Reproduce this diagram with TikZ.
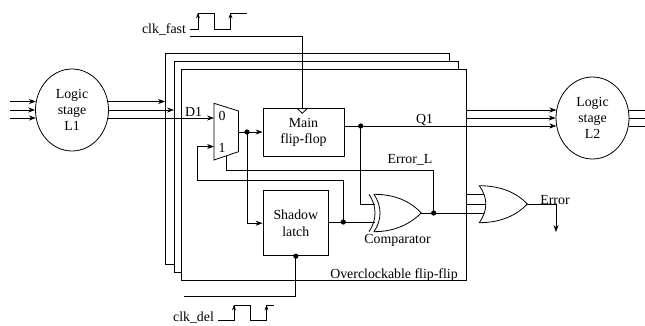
\documentclass[tikz,border=0pt]{standalone}
\usepackage{fontspec}
\setmainfont{Liberation Serif}
\usetikzlibrary{shapes.geometric,arrows.meta}
\def\px{0.75pt}
\tikzset{
  wire/.style={line width=0.6pt,line join=miter},
  arr/.style={wire,-{Stealth[length=5.2pt,width=3.8pt]}},
  smallarr/.style={wire,-{Stealth[length=4pt,width=3pt]}},
  lbl/.style={inner sep=0pt,font=\fontsize{10.4}{12.3}\selectfont,align=center},
  stagenode/.style={ellipse,draw,line width=0.6pt,inner sep=0pt,minimum width=73*\px,minimum height=82*\px,lbl},
  boxnode/.style={rectangle,draw,line width=0.7pt,inner sep=0pt,lbl},
  junction/.style={circle,fill=black,inner sep=0pt,minimum size=5.2*\px},
  gatepath/.style={line width=0.6pt,fill=white,line join=miter}
}
\begin{document}
\begin{tikzpicture}[x=0.75pt,y=-0.75pt]
\useasboundingbox (0,0) rectangle (645,325);
% stacked frames
\draw[wire] (174,264.5) -- (165,264.5) -- (165,53) -- (449,53) -- (449,61);
\draw[wire] (181.5,272) -- (174,272) -- (174,61) -- (458,61) -- (458,69.5);
\draw[wire] (181.5,69.5) rectangle (466.7,280);
% nodes
\node[stagenode] (l1) at (72,110) {Logic\\stage\\L1};
\node[stagenode] (l2) at (592.5,118) {Logic\\stage\\L2};
\node[boxnode,minimum width=81*\px,minimum height=48.5*\px] (main) at (303.5,132.5) {Main\\flip-flop};
\node[boxnode,minimum width=65.7*\px,minimum height=65*\px] (shadow) at (295.85,223.2) {Shadow\\latch};
% mux
\draw[wire,line join=miter] (214,103.3) -- (238.5,111) -- (238.5,151.7) -- (214,160) -- cycle;
\node[lbl] (m0) at (222,116) {0};
\node[lbl] (m1) at (222,148) {1};
\coordinate (muxin0) at (214,118);
\coordinate (muxin1) at (214,146.5);
\coordinate (muxout) at (238.5,132);
\coordinate (muxsel) at (226.3,155.8);
% coordinates
\coordinate (outdot) at (247,132);
\node[junction] (jout) at (outdot) {};
\node[junction] (jq) at (360.7,126) {};
\node[junction] (jsh) at (343.3,222) {};
\node[junction] (jerr) at (433.7,213) {};
\node[junction] (jclk) at (shadow.south) {};
\coordinate (framein1) at (165,101.5);
\coordinate (framein2) at (174,110);
\coordinate (clkin) at (302.3,108.3);
\coordinate (fastend) at (190,36.7);
\coordinate (delend) at (184,296.7);
\coordinate (cmpA) at (375,204);
\coordinate (cmpB) at (375,222);
\coordinate (orA) at (484,194.7);
\coordinate (orB) at (486,204.3);
\coordinate (orC) at (484,213);
\coordinate (orAs) at (466.7,194.7);
\coordinate (orBs) at (466.7,204.3);
\coordinate (orout) at (527.3,204);
\coordinate (errcorner) at (556,204);
\coordinate (errend) at (556,232);
% left stage wires
\draw[arr] (10,101.5) -- (l1.167 |- framein1);
\draw[arr] (10,110) -- (l1.180);
\draw[arr] (10,118) -- (l1.193 |- muxin0);
\draw[arr] (l1.13 |- framein1) -- (framein1);
\draw[arr] (l1.0) -- (framein2);
\draw[arr] (l1.-13 |- muxin0) -- (muxin0);
% right stage wires
\draw[arr] (466.7,110) -- (l2.167.5 |- 0,110);
\draw[arr] (466.7,118) -- (l2.180);
\draw[wire] (l2.12.5 |- 0,110) -- (645,110);
\draw[wire] (l2.0) -- (645,118);
\draw[wire] (l2.-12.5 |- 0,126) -- (645,126);
% internal wires
\draw[arr] (muxout) -- (main.west |- muxout);
\draw[arr] (jout.center) |- (shadow.west);
\draw[wire] (main.east |- jq) -- (jq.center);
\draw[arr] (jq.center) -- (l2.192.5 |- jq);
\draw[wire] (jq.center) |- (cmpA);
\draw[wire] (shadow.east |- jsh) -- (cmpB);
\draw[arr] (jsh.center) |- (197,180) |- (muxin1);
\draw[wire] (muxsel) |- (433.7,170.7) -- (jerr.center);
\draw[wire] (jerr.center) -- (orC);
\draw[wire] (orAs) -- (orA);
\draw[wire] (orBs) -- (orB);
\draw[wire] (orout) -- (errcorner);
\draw[arr] (errcorner) -- (errend);
% clock wires
\draw[wire] (fastend) -| (clkin);
\draw[wire] (297,108.3) -- (302.3,113.3) -- (307.5,108.3);
\draw[wire] (jclk.center) |- (delend);
% gates
\draw[gatepath] (374,194.3) .. controls (396,194.3) and (411,202) .. (421.3,213)
  .. controls (411,223) and (396,231.7) .. (374,231.7)
  .. controls (382,220) and (382,206) .. (374,194.3) -- cycle;
\draw[wire] (369,194.3) .. controls (377,206) and (377,220) .. (369,231.7);
\coordinate (cmpout) at (421.3,213);
\draw[wire] (cmpout) -- (jerr.center);
\draw[gatepath] (479.3,185.7) .. controls (501,185.7) and (517,193) .. (527.3,204)
  .. controls (517,215) and (501,222.7) .. (479.3,222.7)
  .. controls (488,210) and (488,198) .. (479.3,185.7) -- cycle;
% waveforms
\draw[wire] (190,29) -- (198,29) -- (198,13) -- (214,13) -- (214,29) -- (230.5,29) -- (230.5,13) -- (247,13);
\draw[smallarr] (198,22) -- (198,13);
\draw[smallarr] (230.5,22) -- (230.5,13);
\draw[wire] (218,320.6) -- (234,320.6) -- (234,305) -- (250.5,305) -- (250.5,320.6) -- (266.5,320.6) -- (266.5,305) -- (274,305);
\draw[smallarr] (234,314) -- (234,305);
\draw[smallarr] (266.5,314) -- (266.5,305);
% labels
\node[lbl] (tfast) at (164,29.5) {clk\_fast};
\node[lbl] (tdel) at (193.5,318) {clk\_del};
\node[lbl] (td) at (193.5,112) {D1};
\node[lbl] (tq) at (424.5,120.5) {Q1};
\node[lbl] (te) at (410,159.5) {Error\_L};
\node[lbl] (tc) at (397.5,240.5) {Comparator};
\node[lbl] (to) at (394,275) {Overclockable flip-flip};
\node[lbl] (terr) at (555,200) {Error};
\end{tikzpicture}
\end{document}
